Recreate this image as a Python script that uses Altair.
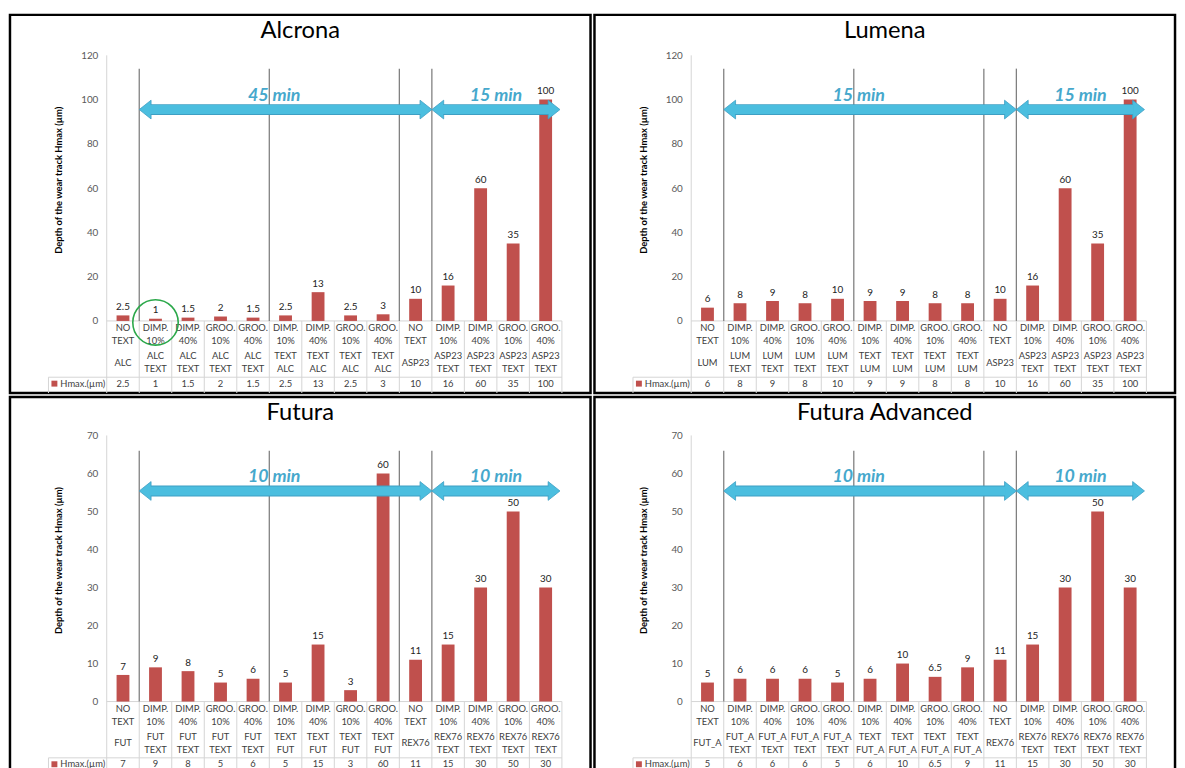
import altair as alt
import pandas as pd

# ---------------- data ----------------
level1 = ["NO\nTEXT", "DIMP.\n10%", "DIMP.\n40%", "GROO.\n10%", "GROO.\n40%",
          "DIMP.\n10%", "DIMP.\n40%", "GROO.\n10%", "GROO.\n40%",
          "NO\nTEXT", "DIMP.\n10%", "DIMP.\n40%", "GROO.\n10%", "GROO.\n40%"]

level2_alc = ["ALC"] + ["ALC\nTEXT"] * 4 + ["TEXT\nALC"] * 4 + ["ASP23"] + ["ASP23\nTEXT"] * 4
level2_lum = ["LUM"] + ["LUM\nTEXT"] * 4 + ["TEXT\nLUM"] * 4 + ["ASP23"] + ["ASP23\nTEXT"] * 4
level2_fut = ["FUT"] + ["FUT\nTEXT"] * 4 + ["TEXT\nFUT"] * 4 + ["REX76"] + ["REX76\nTEXT"] * 4
level2_futa = ["FUT_A"] + ["FUT_A\nTEXT"] * 4 + ["TEXT\nFUT_A"] * 4 + ["REX76"] + ["REX76\nTEXT"] * 4

values_alc = [2.5, 1, 1.5, 2, 1.5, 2.5, 13, 2.5, 3, 10, 16, 60, 35, 100]
values_lum = [6, 8, 9, 8, 10, 9, 9, 8, 8, 10, 16, 60, 35, 100]
values_fut = [7, 9, 8, 5, 6, 5, 15, 3, 60, 11, 15, 30, 50, 30]
values_futa = [5, 6, 6, 6, 5, 6, 10, 6.5, 9, 11, 15, 30, 50, 30]

panel_titles = ["Alcrona", "Lumena", "Futura", "Futura Advanced"]
arrow_labels_alc = ["45 min", "15 min"]
arrow_labels_lum = ["15 min", "15 min"]
arrow_labels_fut = ["10 min", "10 min"]
arrow_labels_futa = ["10 min", "10 min"]

separators = [1, 5, 9, 10]          # column boundaries with dark vertical lines
arrow_starts = [1, 10]              # arrow tips (column boundaries)
arrow_ends = [10, 13.94]
arrow_text_at = [5.15, 11.97]

y_ticks_top = [0, 20, 40, 60, 80, 100, 120]
y_ticks_bottom = [0, 10, 20, 30, 40, 50, 60, 70]

legend_name = "Hmax.(µm)"
y_title = "Depth of the wear track Hmax (µm)"
highlight_alc = 1                   # circled column in the Alcrona panel

# ---------------- layout / style ----------------
FONT = "Lato"
PANEL_W = 588
COL = 32.93
AXIS_X = 98
X0 = -AXIS_X / COL
X1 = (PANEL_W - AXIS_X) / COL
BAR_HALF = 6.5 / COL
LEG_X = (39 - AXIS_X) / COL
BAR_COLOR = "#C0504D"
GRID = "#D4D4D4"
SEP = "#808080"
ARROW = "#4BBEDF"
ARROW_EDGE = "#3E9FC3"
ARROW_TEXT = "#46A8CC"
TXT = "#404040"
TFS = 9.5  # table font size


def make_panel(title, values, level2, arrow_labels, ticks, height, zero_px, top_px,
               sep_top, arrow_y, highlight=None):
    ymax = ticks[-1]
    n = len(values)
    xs = alt.Scale(domain=[X0, X1], nice=False, zero=False)
    ys = alt.Scale(domain=[0, ymax], range=[zero_px, top_px], nice=False, zero=False)
    yaxis = alt.Axis(values=ticks, offset=-AXIS_X, domain=False, ticks=False, tickSize=0,
                     labelPadding=9, labelFont=FONT, labelFontSize=10, labelColor="#595959",
                     grid=False, title=None)

    def X(f):
        return alt.X(f, type="quantitative", scale=xs, axis=None)

    def Y(f):
        return alt.Y(f, type="quantitative", scale=ys, axis=yaxis)

    cols = pd.DataFrame({
        "pos": [i + 0.5 for i in range(n)],
        "left": [i + 0.5 - BAR_HALF for i in range(n)],
        "right": [i + 0.5 + BAR_HALF for i in range(n)],
        "value": values,
        "base": [0] * n,
        "label": [f"{v:g}" for v in values],
        "l1": level1,
        "l2": level2,
        "l2_lines": [s.count("\n") + 1 for s in level2],
    })

    layers = []
    # y axis line running down through the table
    layers.append(alt.Chart(pd.DataFrame({"x": [0.0], "y": [ymax]})).mark_rule(
        color=GRID, strokeWidth=1).encode(x=X("x"), y=Y("y"), y2=alt.value(height)))
    # table vertical lines
    layers.append(alt.Chart(pd.DataFrame({"x": list(range(1, n + 1)), "y": [0] * n})).mark_rule(
        color=GRID, strokeWidth=1).encode(x=X("x"), y=Y("y"), y2=alt.value(height)))
    # category axis line
    layers.append(alt.Chart(pd.DataFrame({"x": [0], "x2": [n], "y": [0]})).mark_rule(
        color=GRID, strokeWidth=1).encode(x=X("x"), x2=alt.X2("x2"), y=Y("y")))
    # legend row lines
    layers.append(alt.Chart(pd.DataFrame({"x": [LEG_X], "x2": [n]})).mark_rule(
        color=GRID, strokeWidth=1).encode(x=X("x"), x2=alt.X2("x2"), y=alt.value(zero_px + 57)))
    layers.append(alt.Chart(pd.DataFrame({"x": [LEG_X]})).mark_rule(
        color=GRID, strokeWidth=1).encode(x=X("x"), y=alt.value(zero_px + 57), y2=alt.value(height)))
    # dark group separators
    layers.append(alt.Chart(pd.DataFrame({"x": separators, "y": [sep_top] * len(separators),
                                          "y0": [0] * len(separators)})).mark_rule(
        color=SEP, strokeWidth=1.3).encode(x=X("x"), y=Y("y"), y2=alt.Y2("y0")))
    # bars
    layers.append(alt.Chart(cols).mark_bar(color=BAR_COLOR).encode(
        x=X("left"), x2=alt.X2("right"), y=Y("value"), y2=alt.Y2("base")))
    # value labels
    layers.append(alt.Chart(cols).mark_text(dy=-8.5, fontSize=10, font=FONT, color="#222").encode(
        x=X("pos"), y=Y("value"), text="label:N"))

    # arrows
    arr = pd.DataFrame({
        "start": arrow_starts,
        "end": arrow_ends,
        "s_in": [s + 0.33 for s in arrow_starts],
        "e_in": [e - 0.33 for e in arrow_ends],
        "mid": arrow_text_at,
        "y": [arrow_y] * 2,
        "label": arrow_labels,
    })
    layers.append(alt.Chart(arr).mark_rule(color=ARROW_EDGE, strokeWidth=11).encode(
        x=X("s_in"), x2=alt.X2("e_in"), y=Y("y")))
    layers.append(alt.Chart(arr).mark_point(
        shape="M 1.26 -1 L 0 0 L 1.26 1 Z", size=361, filled=True, color=ARROW,
        stroke=ARROW_EDGE, strokeWidth=0.8, opacity=1).encode(x=X("start"), y=Y("y")))
    layers.append(alt.Chart(arr).mark_point(
        shape="M -1.26 -1 L 0 0 L -1.26 1 Z", size=361, filled=True, color=ARROW,
        stroke=ARROW_EDGE, strokeWidth=0.8, opacity=1).encode(x=X("end"), y=Y("y")))
    layers.append(alt.Chart(arr).mark_rule(color=ARROW, strokeWidth=9.2).encode(
        x=X("s_in"), x2=alt.X2("e_in"), y=Y("y")))
    layers.append(alt.Chart(arr).mark_text(
        dy=-14, fontSize=18, fontWeight="bold", fontStyle="italic", font=FONT,
        color=ARROW_TEXT).encode(x=X("mid"), y=Y("y"), text="label:N"))

    # data table text (first line placed at y, following lines below)
    layers.append(alt.Chart(cols).mark_text(
        lineBreak="\n", lineHeight=13, fontSize=TFS, font=FONT, color=TXT, baseline="middle").encode(
        x=X("pos"), y=alt.value(zero_px + 7.5), text="l1:N"))
    layers.append(alt.Chart(cols).transform_filter("datum.l2_lines > 1").mark_text(
        lineBreak="\n", lineHeight=13, fontSize=TFS, font=FONT, color=TXT, baseline="middle").encode(
        x=X("pos"), y=alt.value(zero_px + 36), text="l2:N"))
    layers.append(alt.Chart(cols).transform_filter("datum.l2_lines == 1").mark_text(
        fontSize=TFS, font=FONT, color=TXT, baseline="middle").encode(
        x=X("pos"), y=alt.value(zero_px + 42.5), text="l2:N"))
    layers.append(alt.Chart(cols).mark_text(
        fontSize=TFS, font=FONT, color=TXT, baseline="middle").encode(
        x=X("pos"), y=alt.value(zero_px + 63.5), text="label:N"))
    # legend key
    leg = pd.DataFrame({"name": [legend_name]})
    layers.append(alt.Chart(leg).mark_point(shape="square", filled=True, size=36,
                                            color=BAR_COLOR, opacity=1).encode(
        x=alt.value(45), y=alt.value(zero_px + 63.5)))
    layers.append(alt.Chart(leg).mark_text(align="left", fontSize=TFS, font=FONT, color=TXT,
                                           baseline="middle").encode(
        x=alt.value(51), y=alt.value(zero_px + 63.5), text="name:N"))
    # y title
    layers.append(alt.Chart(pd.DataFrame({"t": [y_title]})).mark_text(
        angle=270, fontSize=9.5, fontWeight="bold", font=FONT, color="#000",
        baseline="middle").encode(
        x=alt.value(50), y=alt.value((zero_px + top_px) / 2 - 8), text="t:N"))
    # panel title
    layers.append(alt.Chart(pd.DataFrame({"t": [title]})).mark_text(
        fontSize=24, font=FONT, color="#000", baseline="middle").encode(
        x=alt.value(PANEL_W / 2), y=alt.value(16), text="t:N"))
    # highlight circle
    if highlight is not None:
        layers.append(alt.Chart(pd.DataFrame({"x": [highlight + 0.5]})).mark_point(
            shape="circle", size=2116, filled=False, stroke="#2BA84A", strokeWidth=1.6,
            opacity=1).encode(x=X("x"), y=alt.value(zero_px + 1.5)))

    return alt.layer(*layers).properties(width=PANEL_W, height=height)


TOP_H = 383
BOT_H = 381

p1 = make_panel(panel_titles[0], values_alc, level2_alc, arrow_labels_alc, y_ticks_top,
                TOP_H, 310, 41, 114, 95.5, highlight=highlight_alc)
p2 = make_panel(panel_titles[1], values_lum, level2_lum, arrow_labels_lum, y_ticks_top,
                TOP_H, 310, 41, 114, 95.5)
p3 = make_panel(panel_titles[2], values_fut, level2_fut, arrow_labels_fut, y_ticks_bottom,
                BOT_H, 308.5, 39, 66, 55.4)
p4 = make_panel(panel_titles[3], values_futa, level2_futa, arrow_labels_futa, y_ticks_bottom,
                BOT_H, 308.5, 39, 66, 55.4)

chart = alt.vconcat(
    alt.hconcat(p1, p2, spacing=0),
    alt.hconcat(p3, p4, spacing=0),
    spacing=0,
    padding=0,
).configure_view(stroke="black", strokeWidth=2.5)

chart.save("out.html", embed_options={"renderer": "svg", "actions": False})
